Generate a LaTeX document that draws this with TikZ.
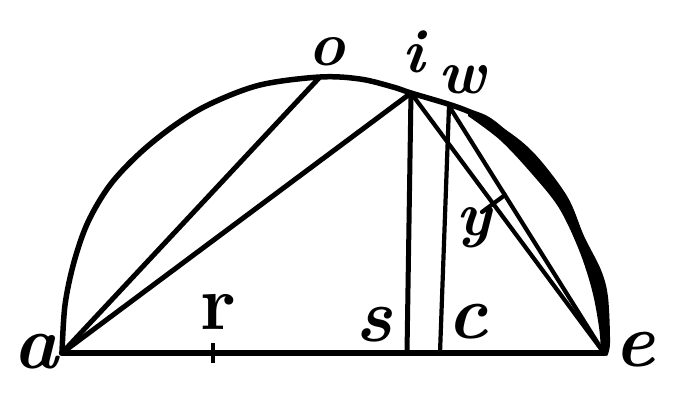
\documentclass[tikz,border=0pt]{standalone}
\usepackage{fontspec}
\begin{document}
\begin{tikzpicture}[x=1pt,y=-1pt,
  geo/.style={line width=5pt, line cap=round, line join=round},
  thin/.style={line width=4.2pt, line cap=round},
  baseln/.style={line width=6.5pt, line cap=round},
  lbl/.style={inner sep=0pt, font=\fontsize{62}{62}\selectfont\bfseries\itshape},
  biglbl/.style={inner sep=0pt, font=\fontsize{76}{76}\selectfont\bfseries\itshape}]
\useasboundingbox (0,0) rectangle (694,400);
% points
\coordinate (a) at (62,353);
\coordinate (e) at (604,353);
\coordinate (o) at (319,78);
\coordinate (i) at (411,93);
\coordinate (w) at (449,106);
\coordinate (s) at (407,353);
\coordinate (c) at (440,353);
\coordinate (rt) at (213,343);
\coordinate (rb) at (213,363);
\coordinate (yw) at (505,195);
\coordinate (yl) at (482,212);
% semicircle
\draw[geo, line width=5.5pt] plot[smooth, tension=0.55] coordinates {(62,353) (65,305) (74,262) (88,222) (110,185) (140,153) (175,125) (210,104) (260,85) (320,77) (360,79) (393,87) (411,93) (448,104) (470,112) (493,123) (533,160) (564,202) (582,243) (597,280) (604,320) (605,353)};
% thick right part of the arc
\fill plot[smooth, tension=0.55] coordinates {(468,110) (500,126) (533,152) (567,196) (584,236) (601,270) (608,297) (610,343) (607,356)}
  -- plot[smooth, tension=0.55] coordinates {(601,352) (599,327) (592,290) (579,250) (559,208) (532,174) (500,140) (468,116)} -- cycle;
% base line
\draw[baseln] (a) -- (e);
\draw[line width=4pt] (rt) -- (rb);
% chords
\draw[geo] (a) -- (o);
\draw[geo] (a) -- (i);
\draw[geo] (i) -- (s);
\draw[thin] (w) -- (c);
\draw[thin] (i) -- (e);
\draw[thin] (w) -- (e);
\draw[thin] (yl) -- (yw);
% labels
\node[biglbl] (la) at (36,352) {a};
\node[inner sep=0pt, font=\fontsize{78}{78}\selectfont\bfseries] (lr) at (218,312) {r};
\node[biglbl] (ls) at (374,325) {s};
\node[biglbl] (lc) at (468,322) {c};
\node[biglbl] (le) at (635,350) {e};
\node[lbl] (lo) at (327,52) {o};
\node[lbl] (li) at (414,52) {i};
\node[lbl] (lw) at (462,80) {w};
\node[lbl] (ly) at (474,228) {y};
\end{tikzpicture}
\end{document}
